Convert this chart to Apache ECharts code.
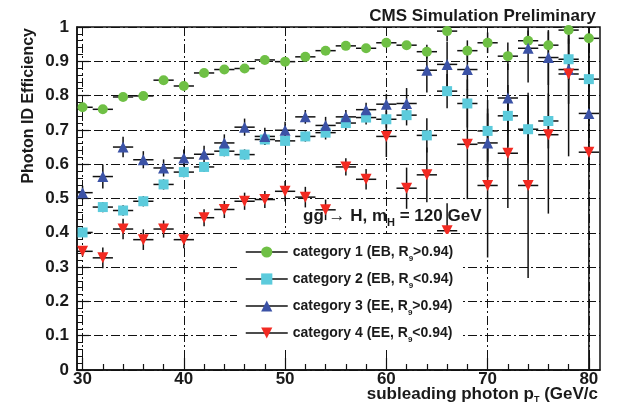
<!DOCTYPE html>
<html>
<head>
<meta charset="utf-8">
<script src="https://cdn.jsdelivr.net/npm/echarts@6/dist/echarts.min.js"></script>
<style>
  html, body { margin: 0; padding: 0; background: #fff; }
  #chart { width: 619px; height: 405px; }
</style>
</head>
<body>
<div id="chart"></div>
<script>
var font = "'Liberation Sans', Arial, Helvetica, sans-serif";

// pT bin centres
var xs = [30,32,34,36,38,40,42,44,46,48,50,52,54,56,58,60,62,64,66,68,70,72,74,76,78,80];

var cats = ['category 1', 'category 2', 'category 3', 'category 4'];
var det = ['EB', 'EB', 'EE', 'EE'];
var cut = ['>0.94', '<0.94', '>0.94', '<0.94'];

var cat1 = [0.766,0.760,0.796,0.799,0.845,0.828,0.866,0.876,0.879,0.904,0.899,0.913,0.931,0.945,0.938,0.954,0.947,0.928,0.988,0.931,0.954,0.915,0.960,0.947,0.991,0.967];
var cat2 = [0.401,0.475,0.465,0.492,0.541,0.577,0.592,0.638,0.628,0.672,0.668,0.681,0.692,0.720,0.736,0.731,0.743,0.684,0.813,0.777,0.697,0.741,0.702,0.726,0.906,0.848];
var cat3 = [0.517,0.564,0.650,0.613,0.589,0.618,0.629,0.662,0.708,0.681,0.699,0.738,0.713,0.738,0.759,0.775,0.777,0.874,0.891,0.876,0.662,0.793,0.938,0.911,0.876,0.748];
var cat4 = [0.346,0.327,0.411,0.380,0.411,0.380,0.444,0.468,0.492,0.497,0.521,0.504,0.467,0.592,0.556,0.681,0.530,0.569,0.406,0.658,0.538,0.632,0.538,0.686,0.863,0.635];

// vertical error (half length)
var err1 = [0.008,0.01,0.008,0.008,0.008,0.008,0.008,0.008,0.008,0.008,0.008,0.008,0.01,0.01,0.01,0.012,0.012,0.02,0.03,0.03,0.03,0.04,0.03,0.04,0.04,0.04];
var err2 = [0.012,0.015,0.015,0.015,0.015,0.015,0.015,0.015,0.015,0.015,0.015,0.015,0.02,0.02,0.02,0.025,0.03,0.05,0.05,0.07,0.09,0.09,0.1,0.08,0.06,0.09];
var err3 = [0.02,0.035,0.03,0.025,0.025,0.025,0.025,0.025,0.025,0.025,0.025,0.02,0.025,0.02,0.02,0.03,0.045,0.065,0.065,0.06,0.1,0.1,0.1,0.08,0.1,0.15];
var err4 = [0.015,0.03,0.03,0.03,0.025,0.025,0.025,0.025,0.025,0.025,0.03,0.03,0.03,0.025,0.03,0.06,0.06,0.08,0.08,0.16,0.21,0.16,0.27,0.23,0.24,0.64];

var xMajor = [30,40,50,60,70,80];
var xMinor = [32,34,36,38,42,44,46,48,52,54,56,58,62,64,66,68,72,74,76,78];

var vals = [cat1, cat2, cat3, cat4];
var errs = [err1, err2, err3, err4];
var colors = ['#6fc045', '#5ccbdc', '#3b52a6', '#f22a22'];
var symbols = ['circle', 'rect', 'triangle', 'triangle'];
var rotates = [0, 0, 0, 180];
var sizes = [10, 10, 11, 11];

var dashDot = [9, 3, 2, 3];

function errRender(params, api) {
    var x = api.value(0), y = api.value(1), e = api.value(2);
    var lo = api.coord([x, Math.max(0, y - e)]);
    var hi = api.coord([x, Math.min(1, y + e)]);
    var l = api.coord([x - 1, y]);
    var r = api.coord([x + 1, y]);
    var st = { stroke: '#111', lineWidth: 1.5 };
    return {
        type: 'group',
        children: [
            { type: 'line', shape: { x1: lo[0], y1: lo[1], x2: hi[0], y2: hi[1] }, style: st },
            { type: 'line', shape: { x1: l[0], y1: l[1], x2: r[0], y2: r[1] }, style: st }
        ]
    };
}

var series = [];
for (var i = 0; i < 4; i++) {
    series.push({
        name: 'err' + i,
        type: 'custom',
        xAxisIndex: 0,
        renderItem: errRender,
        clip: true,
        z: 1,
        silent: true,
        data: xs.map(function (x, j) { return [x, vals[i][j], errs[i][j]]; })
    });
}
for (var i = 0; i < 4; i++) {
    series.push({
        name: cats[i],
        type: 'line',
        xAxisIndex: 0,
        z: 3,
        symbol: symbols[i],
        symbolRotate: rotates[i],
        symbolSize: sizes[i],
        showAllSymbol: true,
        lineStyle: { opacity: 0 },
        itemStyle: { color: colors[i] },
        data: xs.map(function (x, j) { return [x, vals[i][j]]; })
    });
}

var txt = { fontFamily: font, fontWeight: 'bold', color: '#1a1a1a' };

var option = {
    backgroundColor: '#fff',
    animation: false,
    grid: { left: 77, right: 19, top: 27, bottom: 35, show: true, borderColor: '#111', borderWidth: 1.5, backgroundColor: 'transparent' },
    title: {
        text: 'CMS Simulation Preliminary',
        right: 18, top: 3,
        textStyle: { fontFamily: font, fontWeight: 'bold', fontSize: 17, color: '#1a1a1a' }
    },
    legend: {
        data: cats,
        orient: 'vertical',
        left: 237, top: 234,
        padding: [7, 8, 6, 8],
        backgroundColor: '#fff',
        itemWidth: 42, itemHeight: 14, itemGap: 5,
        lineStyle: { color: '#111', width: 1.5, opacity: 1, type: 'solid' },
        formatter: function (name) {
            var k = cats.indexOf(name);
            return '{a|' + name + ' (' + det[k] + ', R}{s|9}{a|' + cut[k] + ')}';
        },
        textStyle: {
            rich: {
                a: { fontFamily: font, fontWeight: 'bold', fontSize: 14, color: '#1a1a1a', lineHeight: 15 },
                s: { fontFamily: font, fontWeight: 'bold', fontSize: 8, color: '#1a1a1a', lineHeight: 8, padding: [14, 0, 0, 0] }
            }
        }
    },
    graphic: [
        {
            type: 'text', left: 303, top: 208, z: 10,
            style: {
                text: '{a|gg → H, m}{s|H}{a| = 120 GeV}',
                rich: {
                    a: { fontFamily: font, fontWeight: 'bold', fontSize: 17, fill: '#1a1a1a', lineHeight: 18 },
                    s: { fontFamily: font, fontWeight: 'bold', fontSize: 11, fill: '#1a1a1a', padding: [12, 0, 0, 0] }
                }
            }
        },
        {
            type: 'text', x: 29, y: 28, rotation: Math.PI / 2,
            style: Object.assign({ text: 'Photon ID Efficiency', fontSize: 16, align: 'right', verticalAlign: 'middle', fill: '#1a1a1a' }, { fontFamily: font, fontWeight: 'bold' })
        },
        {
            type: 'text', right: 21, top: 386,
            style: {
                text: '{a|subleading photon p}{s|T}{a| (GeV/c}',
                rich: {
                    a: { fontFamily: font, fontWeight: 'bold', fontSize: 17, fill: '#1a1a1a' },
                    s: { fontFamily: font, fontWeight: 'bold', fontSize: 9, fill: '#1a1a1a', padding: [10, 0, 0, 0] }
                }
            }
        }
    ],
    xAxis: [
        {
            type: 'value', min: 29.45, max: 81.1,
            axisLine: { onZero: false, lineStyle: { color: '#111', width: 1.5 } },
            axisTick: { inside: true, length: 12, customValues: xMajor, lineStyle: { color: '#111', width: 1.2 } },
            axisLabel: Object.assign({ customValues: xMajor, fontSize: 17, margin: 1 }, txt),
            splitLine: { show: true, lineStyle: { color: '#111', width: 1, type: dashDot } }
        },
        {
            type: 'value', min: 29.45, max: 81.1, position: 'bottom',
            axisLine: { show: false },
            axisTick: { inside: true, length: 6, customValues: xMinor, lineStyle: { color: '#111', width: 1.2 } },
            axisLabel: { show: false },
            splitLine: { show: false }
        }
    ],
    yAxis: {
        type: 'value', min: 0, max: 1, interval: 0.1,
        axisLine: { show: true, lineStyle: { color: '#111', width: 1.5 } },
        axisTick: { inside: true, length: 12, lineStyle: { color: '#111', width: 1.2 } },
        minorTick: { show: true, splitNumber: 5, length: 6, lineStyle: { color: '#111', width: 1 } },
        axisLabel: Object.assign({ fontSize: 17, margin: 8 }, txt),
        splitLine: { show: true, lineStyle: { color: '#111', width: 1, type: dashDot } }
    },
    series: series
};

var chart = echarts.init(document.getElementById('chart'));
chart.setOption(option);
</script>
</body>
</html>
